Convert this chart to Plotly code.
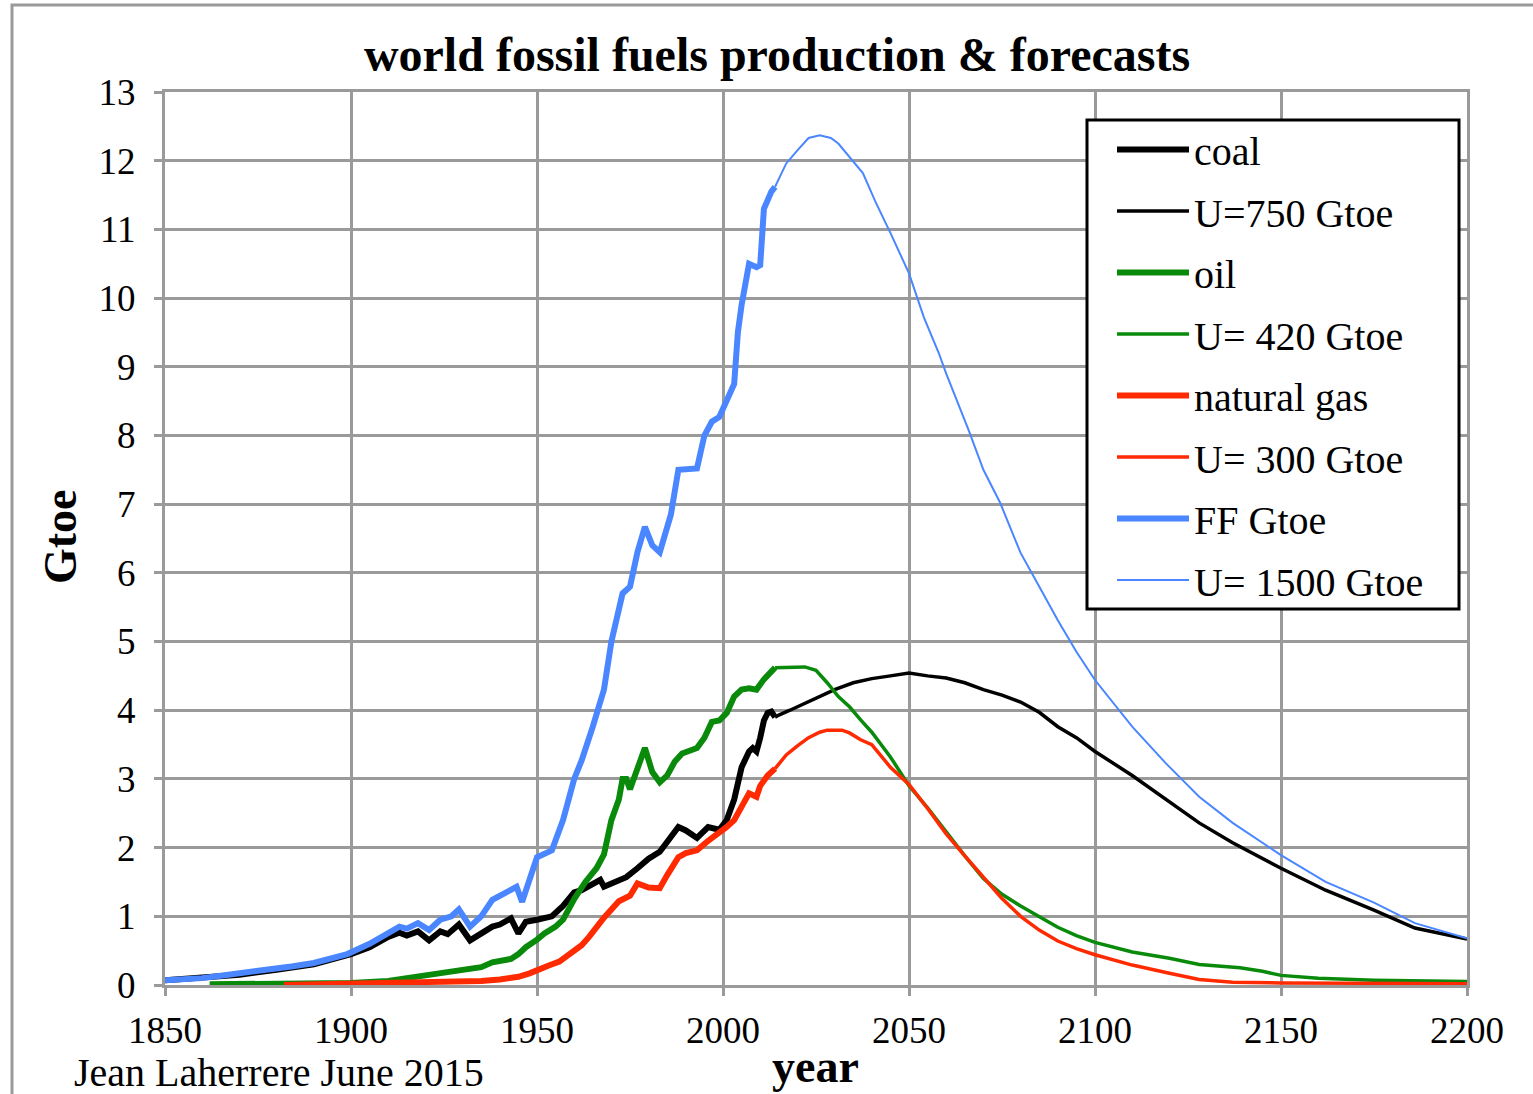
import plotly.graph_objects as go

# ---- historical production (Gtoe) ----
coal_years = [1850, 1860, 1870, 1880, 1890, 1900, 1905, 1910, 1913, 1915, 1918, 1921, 1924, 1926,
              1929, 1932, 1935, 1938, 1940, 1943, 1945, 1947, 1950, 1954, 1957, 1960, 1962, 1964,
              1967, 1968, 1971, 1974, 1977, 1980, 1983, 1986, 1988, 1990, 1993, 1996, 1999, 2001,
              2003, 2005, 2007, 2008, 2009, 2010, 2011, 2012, 2013, 2014]
coal_hist = [0.07, 0.10, 0.15, 0.22, 0.30, 0.45, 0.55, 0.70, 0.76, 0.72, 0.78, 0.65, 0.78, 0.74,
             0.88, 0.65, 0.75, 0.85, 0.88, 0.97, 0.75, 0.92, 0.95, 1.00, 1.15, 1.35, 1.38, 1.45,
             1.53, 1.43, 1.50, 1.57, 1.70, 1.84, 1.94, 2.15, 2.30, 2.25, 2.14, 2.30, 2.26, 2.40,
             2.70, 3.17, 3.40, 3.45, 3.40, 3.60, 3.85, 3.96, 3.98, 3.90]

oil_years = [1862, 1870, 1880, 1890, 1900, 1910, 1915, 1920, 1925, 1930, 1935, 1938, 1940, 1943,
             1945, 1947, 1950, 1952, 1955, 1957, 1960, 1963, 1966, 1968, 1970, 1972, 1973, 1974,
             1975, 1977, 1979, 1981, 1983, 1985, 1987, 1989, 1991, 1993, 1995, 1997, 1999, 2001,
             2003, 2005, 2007, 2009, 2011, 2013, 2014]
oil_hist = [0.01, 0.01, 0.02, 0.03, 0.03, 0.06, 0.10, 0.13, 0.18, 0.20, 0.26, 0.33, 0.35, 0.38,
            0.45, 0.55, 0.66, 0.75, 0.85, 0.95, 1.25, 1.50, 1.70, 1.90, 2.40, 2.70, 3.00, 3.00,
            2.85, 3.15, 3.45, 3.10, 2.95, 3.05, 3.25, 3.37, 3.40, 3.45, 3.60, 3.83, 3.85, 3.96,
            4.20, 4.30, 4.32, 4.30, 4.45, 4.55, 4.62]

gas_years = [1882, 1890, 1900, 1910, 1920, 1930, 1935, 1940, 1945, 1948, 1950, 1953, 1956, 1959,
             1962, 1964, 1966, 1968, 1970, 1972, 1975, 1977, 1980, 1983, 1985, 1988, 1990, 1993,
             1996, 1999, 2001, 2003, 2005, 2007, 2009, 2010, 2012, 2014]
gas_hist = [0.00, 0.01, 0.02, 0.02, 0.03, 0.04, 0.06, 0.08, 0.12, 0.17, 0.22, 0.28, 0.34, 0.45,
            0.58, 0.70, 0.85, 0.98, 1.10, 1.22, 1.30, 1.48, 1.42, 1.41, 1.60, 1.86, 1.92, 1.96,
            2.10, 2.21, 2.30, 2.40, 2.60, 2.79, 2.74, 2.90, 3.05, 3.15]

ff_years = [1850, 1860, 1867, 1875, 1884, 1890, 1899, 1905, 1910, 1913, 1915, 1918, 1921, 1924,
            1927, 1929, 1932, 1935, 1938, 1940, 1943, 1944.5, 1946, 1948, 1950, 1954, 1957, 1960,
            1962, 1965, 1968, 1970, 1973, 1975, 1977, 1979, 1981, 1983, 1986, 1988, 1990, 1993,
            1995, 1997, 1999, 2001, 2003, 2004, 2005, 2007, 2009, 2010, 2011, 2013, 2014]
ff_hist = [0.07, 0.10, 0.15, 0.20, 0.27, 0.32, 0.45, 0.60, 0.75, 0.85, 0.82, 0.90, 0.80, 0.95,
           1.00, 1.10, 0.85, 1.00, 1.24, 1.30, 1.40, 1.43, 1.21, 1.53, 1.86, 1.96, 2.40, 3.00,
           3.27, 3.76, 4.30, 5.00, 5.70, 5.80, 6.30, 6.67, 6.40, 6.30, 6.85, 7.50, 7.50, 7.52,
           8.00, 8.20, 8.27, 8.50, 8.75, 9.50, 9.90, 10.50, 10.45, 10.48, 11.30, 11.55, 11.62]

# ---- forecasts (Gtoe) ----
coal_fc_years = [2014, 2015, 2018, 2022, 2026, 2030, 2035, 2040, 2045, 2050, 2055, 2060, 2065,
                 2070, 2075, 2080, 2085, 2090, 2095, 2100, 2110, 2120, 2128, 2137, 2150, 2162,
                 2175, 2186, 2195, 2200]
coal_fc = [3.90, 3.93, 4.00, 4.10, 4.20, 4.30, 4.40, 4.46, 4.50, 4.54, 4.50, 4.47, 4.40,
           4.30, 4.22, 4.12, 3.97, 3.76, 3.60, 3.40, 3.05, 2.67, 2.36, 2.07, 1.70, 1.38,
           1.09, 0.83, 0.72, 0.67]

oil_fc_years = [2014, 2018, 2022, 2025, 2028, 2031, 2034, 2037, 2040, 2045, 2050, 2055, 2060,
                2065, 2070, 2075, 2080, 2085, 2090, 2095, 2100, 2110, 2120, 2128, 2139, 2145,
                2150, 2160, 2175, 2200]
oil_fc = [4.62, 4.63, 4.63, 4.58, 4.40, 4.20, 4.05, 3.86, 3.68, 3.32, 2.90, 2.58, 2.22,
          1.88, 1.55, 1.32, 1.15, 1.00, 0.84, 0.72, 0.62, 0.48, 0.39, 0.30, 0.25, 0.20,
          0.14, 0.10, 0.07, 0.05]

gas_fc_years = [2014, 2017, 2020, 2023, 2026, 2028, 2032, 2034, 2037, 2040, 2045, 2050, 2055,
                2060, 2065, 2070, 2075, 2080, 2085, 2090, 2095, 2100, 2110, 2120, 2128, 2137,
                2150, 2200]
gas_fc = [3.15, 3.35, 3.48, 3.60, 3.68, 3.71, 3.71, 3.67, 3.57, 3.50, 3.17, 2.92, 2.57,
          2.20, 1.88, 1.57, 1.26, 1.00, 0.80, 0.64, 0.53, 0.44, 0.29, 0.17, 0.08, 0.04,
          0.03, 0.02]

ff_fc_years = [2014, 2017, 2020, 2023, 2026, 2029, 2031, 2034, 2037.6, 2041, 2045, 2050, 2054,
               2058, 2060, 2066, 2070, 2074.5, 2080, 2085, 2090, 2095, 2100, 2110, 2119, 2128,
               2137, 2150, 2162, 2175, 2186, 2200]
ff_fc = [11.62, 11.96, 12.15, 12.33, 12.37, 12.33, 12.25, 12.05, 11.82, 11.40, 10.95, 10.36, 9.72,
         9.20, 8.90, 8.08, 7.50, 7.02, 6.29, 5.80, 5.31, 4.85, 4.44, 3.76, 3.23, 2.74,
         2.36, 1.89, 1.50, 1.20, 0.90, 0.68]

x_ticks = [1850, 1900, 1950, 2000, 2050, 2100, 2150, 2200]
y_ticks = list(range(0, 14))

BLACK = "#000000"
GREEN = "#0a8a0a"
RED = "#ff2a00"
BLUE = "#4a86ff"
GRID = "#9a9a9a"
SERIF = "Liberation Serif"

series = [
    ("coal", coal_years, coal_hist, BLACK, 6),
    ("U=750 Gtoe", coal_fc_years, coal_fc, BLACK, 3.5),
    ("oil", oil_years, oil_hist, GREEN, 6),
    ("U= 420 Gtoe", oil_fc_years, oil_fc, GREEN, 3.5),
    ("natural gas", gas_years, gas_hist, RED, 6),
    ("U= 300 Gtoe", gas_fc_years, gas_fc, RED, 3.5),
    ("FF Gtoe", ff_years, ff_hist, BLUE, 6),
    ("U= 1500 Gtoe", ff_fc_years, ff_fc, BLUE, 2),
]

fig = go.Figure()
for i, (name, xs, ys, color, width) in enumerate(series):
    fig.add_trace(go.Scatter(
        x=xs, y=ys, name=name, mode="lines",
        line=dict(color=color, width=width),
        legendgroup=f"g{i}",
    ))

# plot-area geometry in pixels
L, T = 165, 92
W, H = 1533, 1094
R, B = 1467, 985
PW, PH = R - L, B - T


def px_x(p):
    return (p - L) / PW


def px_y(p):
    return (B - p) / PH


axis_common = dict(
    showgrid=True, gridcolor=GRID, gridwidth=3,
    showline=True, linecolor=GRID, linewidth=3, mirror=True,
    ticks="outside", ticklen=8, tickwidth=3, tickcolor=GRID,
    tickfont=dict(family=SERIF, size=37, color="black"),
    zeroline=False,
)

fig.update_layout(
    width=W, height=H,
    margin=dict(l=L, r=W - R, t=T, b=H - B),
    paper_bgcolor="white", plot_bgcolor="white",
    showlegend=True,
    legend=dict(
        x=px_x(1112), y=px_y(117), xanchor="left", yanchor="top",
        bgcolor="rgba(0,0,0,0)", borderwidth=0,
        font=dict(family=SERIF, size=40, color="black"),
        itemwidth=72, traceorder="grouped", tracegroupgap=6.5,
    ),
    xaxis=dict(range=[1850, 2200], tickvals=x_ticks, ticklabelstandoff=3, **axis_common),
    yaxis=dict(range=[0, 13], tickvals=y_ticks, ticklabelstandoff=11, **axis_common),
    title=dict(
        text="<b>world fossil fuels production &amp; forecasts</b>",
        font=dict(family=SERIF, size=48, color="black"),
        xref="paper", x=px_x(777), xanchor="center",
        yref="container", y=1 - 54 / H, yanchor="middle",
    ),
    annotations=[
        dict(text="<b>Gtoe</b>", textangle=-90, xref="paper", yref="paper",
             x=px_x(60), y=px_y(537), xanchor="center", yanchor="middle", showarrow=False,
             font=dict(family=SERIF, size=46, color="black")),
        dict(text="<b>year</b>", xref="paper", yref="paper",
             x=px_x(815), y=px_y(1066), xanchor="center", yanchor="middle", showarrow=False,
             font=dict(family=SERIF, size=46, color="black")),
        dict(text="Jean Laherrere June 2015", xref="paper", yref="paper",
             x=px_x(72), y=px_y(1072), xanchor="left", yanchor="middle", showarrow=False,
             font=dict(family=SERIF, size=40, color="black")),
    ],
    shapes=[
        # outer frame around the whole chart
        dict(type="rect", xref="paper", yref="paper",
             x0=px_x(12), x1=px_x(1545), y0=px_y(1110), y1=px_y(5),
             line=dict(color=GRID, width=3), layer="below"),
        # legend box
        dict(type="rect", xref="paper", yref="paper",
             x0=px_x(1087), x1=px_x(1459), y0=px_y(609), y1=px_y(120),
             line=dict(color="black", width=3), fillcolor="white", layer="above"),
    ],
)

fig.write_html("out.html")
